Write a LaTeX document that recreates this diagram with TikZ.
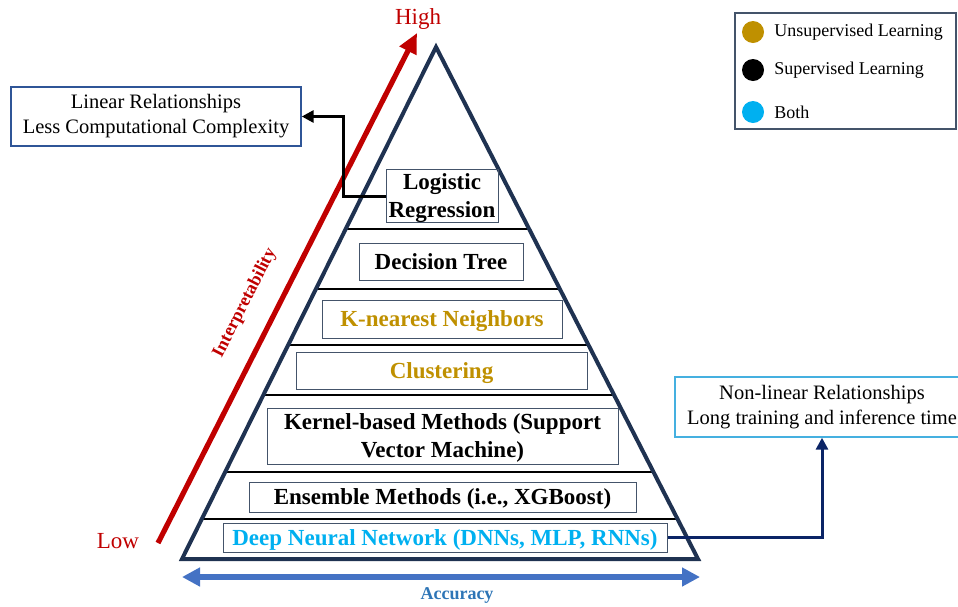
\documentclass[tikz,border=0pt]{standalone}
\usepackage{fontspec}
\setmainfont{Liberation Serif}
\usetikzlibrary{arrows.meta,positioning,calc}

\definecolor{pyrnavy}{HTML}{1F3251}
\definecolor{boxedge}{HTML}{44546A}
\definecolor{interpred}{HTML}{C00000}
\definecolor{accblue}{HTML}{4472C4}
\definecolor{acctext}{HTML}{2E75B6}
\definecolor{unsupgold}{HTML}{BF9000}
\definecolor{bothsky}{HTML}{00B0F0}
\definecolor{linedge}{HTML}{2F5597}
\definecolor{nonlinedge}{HTML}{45B0E0}
\definecolor{dnnnavy}{HTML}{0B2466}

\newcommand{\tierfont}{\fontsize{11.5}{14}\selectfont\bfseries}
\newcommand{\notefont}{\fontsize{10.25}{12.5}\selectfont}
\newcommand{\keyfont}{\fontsize{9}{11}\selectfont}

\begin{document}
\begin{tikzpicture}[
  x=0.5pt, y=-0.5pt,
  tier/.style  ={draw=boxedge, line width=0.5pt, align=center, inner sep=0pt, text depth=0pt, font=\tierfont},
  note/.style  ={draw, line width=0.7pt, align=center, inner sep=0pt, font=\notefont},
  axlabel/.style={text=interpred, font=\fontsize{11.5}{13}\selectfont},
  dot/.style   ={circle, minimum size=11pt, inner sep=0pt},
  keytext/.style={anchor=west, inner sep=0pt, font=\keyfont},
  sep/.style   ={line width=1pt},
]
\useasboundingbox (0,0) rectangle (958,606);

%% ---------------- pyramid ----------------
\coordinate (apex) at (436,47);
\coordinate (bl) at (182,559);
\coordinate (br) at (698,559);

\begin{scope}
  \clip (apex) -- (bl) -- (br) -- cycle;
  \foreach \y in {229,289,345,395,472,519}{
    \draw[sep] (150,\y) -- (750,\y);
  }
\end{scope}
\draw[pyrnavy, line width=2pt] (apex) -- (bl) -- (br) -- cycle;

\node[tier, minimum width=56pt, minimum height=26.5pt] (tLogit) at (442,196) {Logistic\\Regression};
\node[tier, minimum width=82pt, minimum height=18.5pt] (tTree) at (441,261.5) {Decision Tree};
\node[tier, minimum width=120pt, minimum height=19pt, text=unsupgold] (tKnn) at (442,319) {K-nearest Neighbors};
\node[tier, minimum width=145.5pt, minimum height=18.5pt, text=unsupgold] (tClust) at (441.5,370.5) {Clustering};
\node[tier, minimum width=175.5pt, minimum height=28pt] (tKernel) at (442.5,436) {Kernel-based Methods (Support\\Vector Machine)};
\node[tier, minimum width=193.5pt, minimum height=15pt] (tEns) at (442.5,497) {Ensemble Methods (i.e., XGBoost)};
\node[tier, minimum width=222pt, minimum height=14.5pt, text=bothsky] (tDnn) at (445,537.5) {Deep Neural Network (DNNs, MLP, RNNs)};

%% ---------------- interpretability axis ----------------
\coordinate (lowEnd) at (158,543);
\coordinate (highEnd) at (417,33);
\draw[interpred, line width=2.6pt, -{Triangle[length=10pt, width=9pt]}] (lowEnd) -- (highEnd);
\node[axlabel] (high) at (418,19) {High};
\node[axlabel] (low) at (118,541) {Low};
\node[text=interpred, font=\fontsize{9}{11}\selectfont\bfseries, rotate=63] (interp) at (245,303) {Interpretability};

%% ---------------- accuracy axis ----------------
\coordinate (accL) at (182,577);
\coordinate (accR) at (700,577);
\draw[accblue, line width=2.6pt, {Triangle[length=9pt, width=9pt]}-{Triangle[length=9pt, width=9pt]}] (accL) -- (accR);
\node[text=acctext, font=\fontsize{9}{11}\selectfont\bfseries] (acc) at (457,595) {Accuracy};

%% ---------------- notes ----------------
\node[note, draw=linedge, minimum width=145pt, minimum height=29.5pt] (noteLin) at (156,116.5)
  {Linear Relationships\\Less Computational Complexity};
\node[note, draw=nonlinedge, minimum width=147pt, minimum height=30pt] (noteNonlin) at (822,407)
  {Non-linear Relationships\\Long training and inference time};

\coordinate (bendL) at (343,0);
\draw[line width=1.5pt, -{Triangle[length=6pt, width=6pt]}]
  (tLogit.west) -- (tLogit.west -| bendL) |- (noteLin.east);
\draw[dnnnavy, line width=1.5pt, -{Triangle[length=6pt, width=6pt]}]
  (tDnn.east) -| (noteNonlin.south);

%% ---------------- legend ----------------
\node[draw=boxedge, line width=0.7pt, minimum width=110.5pt, minimum height=58pt] (legend) at (845.5,71) {};
\node[dot, fill=unsupgold] (kUnsup) at (753,32) {};
\node[dot, fill=black] (kSup) at (753,70) {};
\node[dot, fill=bothsky] (kBoth) at (753,112) {};
\node[keytext] (lUnsup) at (774,32) {Unsupervised Learning};
\node[keytext] (lSup) at (774,70) {Supervised Learning};
\node[keytext] (lBoth) at (774,112) {Both};

\end{tikzpicture}
\end{document}
